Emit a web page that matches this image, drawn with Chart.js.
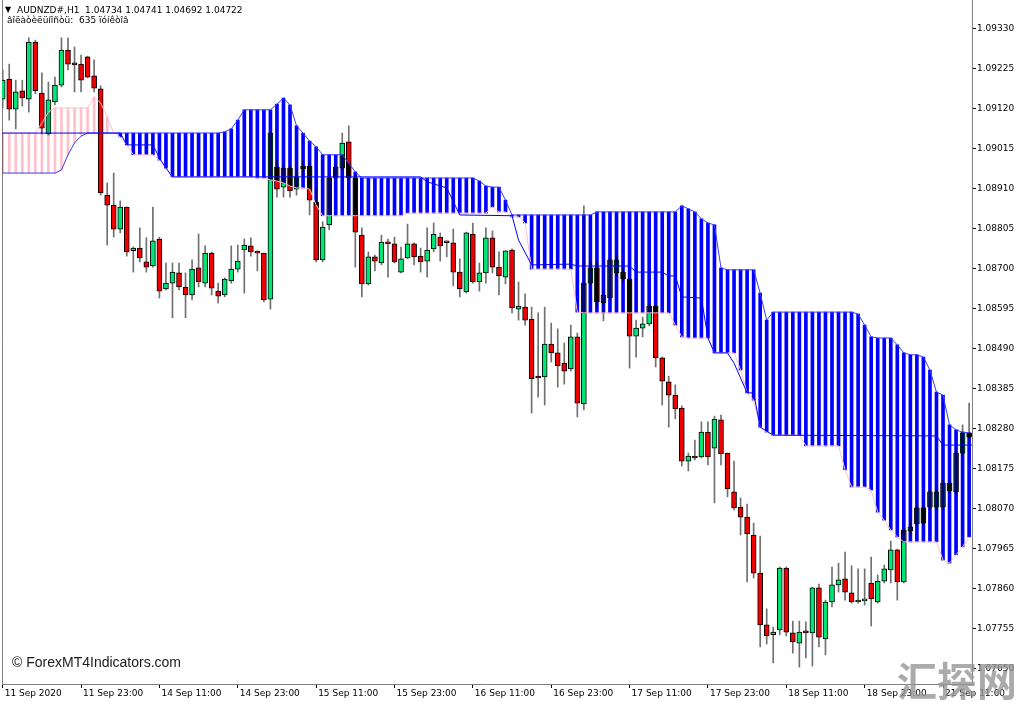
<!DOCTYPE html>
<html>
<head>
<meta charset="utf-8">
<title>AUDNZD#,H1</title>
<script src="https://cdn.jsdelivr.net/npm/chart.js@4.4.1/dist/chart.umd.min.js"></script>
<style>
  html, body { margin: 0; padding: 0; background: #fff; }
  #wrap { position: relative; width: 1024px; height: 704px; overflow: hidden; background: #fff; }
  #chart { position: absolute; left: 0; top: 0; }
  .mt { position: absolute; white-space: pre; font-family: "DejaVu Sans", sans-serif; font-size: 9px; line-height: 11px; color: #000; }
  #copy { position: absolute; left: 12px; top: 655px; white-space: pre; font-family: "Liberation Sans", Arial, sans-serif; font-size: 14px; line-height: 14px; color: #1a1a1a; }
  #wm { position: absolute; left: 897px; top: 657px; white-space: pre; font-family: "Noto Sans CJK SC", sans-serif; font-weight: 700; font-size: 40px; line-height: 44px; color: rgba(150,150,150,0.8); }
</style>
</head>
<body>
<div id="wrap">
  <canvas id="chart" width="1024" height="704"></canvas>
  <div class="mt" style="left:5px; top:4px; font-size:8px;">▼</div>
  <div class="mt" style="left:17px; top:5px;">AUDNZD#,H1  1.04734 1.04741 1.04692 1.04722</div>
  <div class="mt" style="left:7px; top:15px;">âîëàòèëüíîñòü:  635 ïóíêòîâ</div>
  <div id="copy">© ForexMT4Indicators.com</div>
  <div id="wm">汇探网</div>
</div>
<script>
// tick labels
const xTickBars = [0, 12, 24, 36, 48, 60, 72, 84, 96, 108, 120, 132, 144];
const xTickLabels = ["11 Sep 2020", "11 Sep 23:00", "14 Sep 11:00", "14 Sep 23:00", "15 Sep 11:00", "15 Sep 23:00",
  "16 Sep 11:00", "16 Sep 23:00", "17 Sep 11:00", "17 Sep 23:00", "18 Sep 11:00", "18 Sep 23:00", "21 Sep 11:00"];
const yTickLabels = ["1.07650", "1.07755", "1.07860", "1.07965", "1.08070", "1.08175", "1.08280", "1.08385", "1.08490",
  "1.08595", "1.08700", "1.08805", "1.08910", "1.09015", "1.09120", "1.09225", "1.09330"];

// H1 candles, bar 0 = 11 Sep 2020 11:00
const opens = [
  1.09144, 1.09197, 1.09118, 1.09166, 1.09144, 1.09294, 1.09160, 1.09053, 1.09137, 1.09181,
  1.09273, 1.09239, 1.09236, 1.09255, 1.09205, 1.09171, 1.08892, 1.08866, 1.08803, 1.08861,
  1.08746, 1.08753, 1.08717, 1.08706, 1.08777, 1.08646, 1.08661, 1.08688, 1.08651, 1.08630,
  1.08701, 1.08661, 1.08740, 1.08640, 1.08630, 1.08667, 1.08698, 1.08748, 1.08759, 1.08743,
  1.08740, 1.08619, 1.08966, 1.08913, 1.08963, 1.08908, 1.08968, 1.08968, 1.08874, 1.08722,
  1.08814, 1.08937, 1.08963, 1.09032, 1.08937, 1.08787, 1.08659, 1.08730, 1.08714, 1.08769,
  1.08764, 1.08690, 1.08727, 1.08764, 1.08732, 1.08719, 1.08751, 1.08782, 1.08767, 1.08767,
  1.08690, 1.08638, 1.08790, 1.08664, 1.08688, 1.08780, 1.08703, 1.08677, 1.08748, 1.08593,
  1.08598, 1.08567, 1.08415, 1.08415, 1.08501, 1.08478, 1.08451, 1.08436, 1.08520, 1.08344,
  1.08661, 1.08701, 1.08609, 1.08622, 1.08688, 1.08690, 1.08672, 1.08522, 1.08543, 1.08554,
  1.08601, 1.08465, 1.08402, 1.08367, 1.08333, 1.08194, 1.08205, 1.08205, 1.08270, 1.08228,
  1.08302, 1.08215, 1.08113, 1.08073, 1.08047, 1.08000, 1.07900, 1.07764, 1.07738, 1.07751,
  1.07913, 1.07743, 1.07716, 1.07748, 1.07743, 1.07861, 1.07727, 1.07824, 1.07869, 1.07885,
  1.07848, 1.07824, 1.07827, 1.07874, 1.07824, 1.07879, 1.07908, 1.07961, 1.07877, 1.08011,
  1.08029, 1.08071, 1.08073, 1.08073, 1.08073, 1.08136, 1.08113, 1.08215, 1.08268
];
const highs = [
  1.09221, 1.09236, 1.09194, 1.09194, 1.09305, 1.09299, 1.09213, 1.09189, 1.09202, 1.09305,
  1.09305, 1.09281, 1.09260, 1.09257, 1.09247, 1.09179, 1.08924, 1.08950, 1.08877, 1.08861,
  1.08756, 1.08806, 1.08780, 1.08861, 1.08782, 1.08714, 1.08714, 1.08714, 1.08688, 1.08722,
  1.08790, 1.08759, 1.08743, 1.08661, 1.08675, 1.08759, 1.08761, 1.08777, 1.08780, 1.08746,
  1.08740, 1.09058, 1.08984, 1.08971, 1.08968, 1.08958, 1.08984, 1.08984, 1.08906, 1.08822,
  1.08945, 1.08976, 1.09055, 1.09074, 1.08945, 1.08806, 1.08743, 1.08735, 1.08787, 1.08777,
  1.08782, 1.08756, 1.08816, 1.08767, 1.08753, 1.08806, 1.08819, 1.08793, 1.08772, 1.08803,
  1.08725, 1.08795, 1.08819, 1.08714, 1.08806, 1.08798, 1.08743, 1.08746, 1.08751, 1.08664,
  1.08633, 1.08598, 1.08583, 1.08598, 1.08556, 1.08541, 1.08504, 1.08551, 1.08530, 1.08864,
  1.08717, 1.08717, 1.08643, 1.08727, 1.08735, 1.08701, 1.08680, 1.08564, 1.08572, 1.08606,
  1.08606, 1.08467, 1.08417, 1.08394, 1.08339, 1.08215, 1.08249, 1.08297, 1.08297, 1.08312,
  1.08315, 1.08215, 1.08194, 1.08097, 1.08081, 1.08031, 1.07997, 1.07806, 1.07758, 1.07916,
  1.07916, 1.07774, 1.07774, 1.07772, 1.07863, 1.07871, 1.07829, 1.07916, 1.07926, 1.07955,
  1.07919, 1.07911, 1.07911, 1.07942, 1.07895, 1.07921, 1.07984, 1.07963, 1.08021, 1.08039,
  1.08076, 1.08079, 1.08118, 1.08118, 1.08144, 1.08144, 1.08223, 1.08289, 1.08346
];
const lows = [
  1.09121, 1.09089, 1.09066, 1.09126, 1.09110, 1.09158, 1.09053, 1.09050, 1.09129, 1.09176,
  1.09221, 1.09163, 1.09163, 1.09200, 1.09163, 1.08892, 1.08761, 1.08782, 1.08793, 1.08732,
  1.08690, 1.08717, 1.08690, 1.08703, 1.08622, 1.08643, 1.08570, 1.08643, 1.08570, 1.08617,
  1.08651, 1.08651, 1.08630, 1.08609, 1.08625, 1.08661, 1.08690, 1.08635, 1.08732, 1.08693,
  1.08612, 1.08593, 1.08887, 1.08887, 1.08887, 1.08892, 1.08945, 1.08840, 1.08717, 1.08717,
  1.08801, 1.08932, 1.08958, 1.08932, 1.08703, 1.08625, 1.08656, 1.08693, 1.08709, 1.08677,
  1.08714, 1.08688, 1.08725, 1.08709, 1.08690, 1.08677, 1.08743, 1.08719, 1.08730, 1.08654,
  1.08625, 1.08635, 1.08661, 1.08640, 1.08661, 1.08688, 1.08630, 1.08659, 1.08583, 1.08564,
  1.08551, 1.08320, 1.08362, 1.08341, 1.08454, 1.08388, 1.08396, 1.08430, 1.08310, 1.08328,
  1.08656, 1.08596, 1.08562, 1.08617, 1.08680, 1.08664, 1.08438, 1.08467, 1.08520, 1.08549,
  1.08441, 1.08341, 1.08283, 1.08305, 1.08181, 1.08168, 1.08197, 1.08202, 1.08184, 1.08084,
  1.08184, 1.08100, 1.08066, 1.08000, 1.07877, 1.07887, 1.07706, 1.07714, 1.07664, 1.07738,
  1.07735, 1.07690, 1.07653, 1.07677, 1.07656, 1.07706, 1.07685, 1.07811, 1.07850, 1.07829,
  1.07821, 1.07821, 1.07816, 1.07761, 1.07821, 1.07874, 1.07874, 1.07829, 1.07874, 1.08000,
  1.08024, 1.08026, 1.08068, 1.08066, 1.08068, 1.08110, 1.08108, 1.08210, 1.08249
];
const closes = [
  1.09194, 1.09118, 1.09163, 1.09147, 1.09294, 1.09166, 1.09068, 1.09142, 1.09181, 1.09273,
  1.09236, 1.09234, 1.09194, 1.09202, 1.09173, 1.08898, 1.08866, 1.08803, 1.08861, 1.08743,
  1.08753, 1.08727, 1.08703, 1.08772, 1.08640, 1.08661, 1.08690, 1.08651, 1.08630, 1.08698,
  1.08664, 1.08740, 1.08648, 1.08627, 1.08672, 1.08698, 1.08719, 1.08761, 1.08743, 1.08740,
  1.08617, 1.09055, 1.08908, 1.08963, 1.08903, 1.08940, 1.08961, 1.08879, 1.08722, 1.08808,
  1.08937, 1.08966, 1.09029, 1.08937, 1.08795, 1.08659, 1.08730, 1.08719, 1.08769, 1.08764,
  1.08717, 1.08725, 1.08764, 1.08730, 1.08717, 1.08748, 1.08790, 1.08759, 1.08769, 1.08690,
  1.08646, 1.08793, 1.08664, 1.08688, 1.08780, 1.08703, 1.08680, 1.08746, 1.08596, 1.08601,
  1.08564, 1.08410, 1.08412, 1.08501, 1.08478, 1.08444, 1.08430, 1.08520, 1.08346, 1.08661,
  1.08701, 1.08612, 1.08630, 1.08722, 1.08722, 1.08672, 1.08522, 1.08543, 1.08554, 1.08601,
  1.08465, 1.08404, 1.08367, 1.08331, 1.08194, 1.08207, 1.08202, 1.08270, 1.08205, 1.08304,
  1.08213, 1.08121, 1.08071, 1.08047, 1.08003, 1.07900, 1.07764, 1.07735, 1.07745, 1.07913,
  1.07745, 1.07719, 1.07745, 1.07743, 1.07861, 1.07732, 1.07824, 1.07869, 1.07882, 1.07850,
  1.07824, 1.07827, 1.07832, 1.07832, 1.07879, 1.07911, 1.07961, 1.07877, 1.08013, 1.08021,
  1.08071, 1.08031, 1.08113, 1.08113, 1.08136, 1.08116, 1.08215, 1.08268, 1.08257
];

// cloud spans (blue = span A, pink = span B)
const spanA = [
  1.08950, 1.08950, 1.08950, 1.08950, 1.08950, 1.08950, 1.08950, 1.08950, 1.08950, 1.08958,
  1.08998, 1.09029, 1.09047, 1.09055, 1.09055, 1.09055, 1.09055, 1.09055, 1.09055, 1.09055,
  1.09055, 1.09055, 1.09055, 1.09055, 1.09055, 1.09055, 1.09055, 1.09055, 1.09055, 1.09055,
  1.09055, 1.09055, 1.09055, 1.09055, 1.09058, 1.09066, 1.09089, 1.09116, 1.09116, 1.09116,
  1.09116, 1.09116, 1.09131, 1.09147, 1.09129, 1.09074, 1.09055, 1.09034, 1.09019, 1.08998,
  1.08998, 1.08998, 1.08998, 1.08976, 1.08953, 1.08937, 1.08937, 1.08937, 1.08937, 1.08937,
  1.08937, 1.08937, 1.08937, 1.08937, 1.08937, 1.08937, 1.08937, 1.08937, 1.08937, 1.08937,
  1.08937, 1.08937, 1.08937, 1.08929, 1.08916, 1.08913, 1.08913, 1.08879, 1.08840, 1.08840,
  1.08840, 1.08840, 1.08840, 1.08840, 1.08840, 1.08840, 1.08840, 1.08840, 1.08840, 1.08840,
  1.08840, 1.08848, 1.08848, 1.08848, 1.08848, 1.08848, 1.08848, 1.08848, 1.08848, 1.08848,
  1.08848, 1.08848, 1.08848, 1.08848, 1.08864, 1.08856, 1.08848, 1.08830, 1.08819, 1.08814,
  1.08701, 1.08696, 1.08696, 1.08696, 1.08696, 1.08696, 1.08635, 1.08564, 1.08585, 1.08585,
  1.08585, 1.08585, 1.08585, 1.08585, 1.08585, 1.08585, 1.08585, 1.08585, 1.08585, 1.08585,
  1.08585, 1.08580, 1.08551, 1.08520, 1.08517, 1.08517, 1.08517, 1.08499, 1.08478, 1.08473,
  1.08473, 1.08467, 1.08433, 1.08375, 1.08367, 1.08289, 1.08276, 1.08270, 1.08268
];
const spanB = [
  1.09055, 1.09055, 1.09055, 1.09055, 1.09055, 1.09055, 1.09081, 1.09110, 1.09121, 1.09121,
  1.09121, 1.09121, 1.09121, 1.09121, 1.09150, 1.09134, 1.09097, 1.09055, 1.09045, 1.09024,
  1.08998, 1.08998, 1.08998, 1.08998, 1.08984, 1.08963, 1.08940, 1.08940, 1.08940, 1.08940,
  1.08940, 1.08940, 1.08940, 1.08940, 1.08940, 1.08940, 1.08940, 1.08940, 1.08940, 1.08937,
  1.08937, 1.08932, 1.08929, 1.08924, 1.08916, 1.08911, 1.08911, 1.08908, 1.08866, 1.08838,
  1.08838, 1.08838, 1.08838, 1.08838, 1.08838, 1.08838, 1.08838, 1.08838, 1.08838, 1.08838,
  1.08838, 1.08838, 1.08845, 1.08845, 1.08845, 1.08845, 1.08845, 1.08845, 1.08845, 1.08845,
  1.08845, 1.08845, 1.08845, 1.08845, 1.08845, 1.08861, 1.08848, 1.08848, 1.08835, 1.08835,
  1.08819, 1.08698, 1.08698, 1.08698, 1.08698, 1.08698, 1.08698, 1.08698, 1.08585, 1.08583,
  1.08583, 1.08583, 1.08583, 1.08583, 1.08583, 1.08583, 1.08583, 1.08583, 1.08583, 1.08583,
  1.08583, 1.08583, 1.08583, 1.08551, 1.08520, 1.08517, 1.08517, 1.08517, 1.08517, 1.08478,
  1.08478, 1.08478, 1.08478, 1.08433, 1.08373, 1.08354, 1.08283, 1.08270, 1.08262, 1.08262,
  1.08262, 1.08262, 1.08262, 1.08234, 1.08234, 1.08234, 1.08234, 1.08234, 1.08234, 1.08171,
  1.08126, 1.08126, 1.08126, 1.08118, 1.08060, 1.08039, 1.08013, 1.07995, 1.07982, 1.07982,
  1.07982, 1.07982, 1.07982, 1.07982, 1.07934, 1.07926, 1.07948, 1.07969, 1.07995
];

// base line (thin blue), given at the bars where it turns
const kijunBars = [-1, 18, 19, 23, 24, 25, 26, 64, 65, 68, 70, 78, 79, 81, 87, 88, 96, 97, 101, 102,
  103, 104, 107, 108, 109, 111, 112, 114, 115, 116, 118, 143, 144, 149];
const kijun = [1.09055, 1.09055, 1.09024, 1.09024, 1.08990, 1.08963, 1.08940, 1.08940, 1.08927, 1.08911,
  1.08840, 1.08838, 1.08774, 1.08709, 1.08711, 1.08706, 1.08706, 1.08690, 1.08690, 1.08680,
  1.08680, 1.08625, 1.08622, 1.08517, 1.08478, 1.08478, 1.08451, 1.08373, 1.08373, 1.08283,
  1.08262, 1.08260, 1.08236, 1.08236];

const BULL = "#00e676";
const BEAR = "#f00000";

const wickData = opens.map((o, i) => ({ x: i, y: [lows[i], highs[i]] }));
const bodyData = opens.map((o, i) => ({ x: i, y: [o, closes[i]] }));
const bodyColors = opens.map((o, i) => closes[i] >= o ? BULL : BEAR);

const blueCloud = [];
const pinkCloud = [];
spanA.forEach((a, i) => {
  const b = spanB[i];
  if (a > b) blueCloud.push({ x: i, y: [b, a] });
  else if (b > a) pinkCloud.push({ x: i, y: [a, b] });
});

// the hatch is laid over the candles like MT4 does (candles inside the cloud go dark)
const blendPlugin = {
  id: "blend",
  beforeDatasetDraw(chart, args) {
    const ds = chart.data.datasets[args.index];
    if (ds.blend) {
      chart.ctx.save();
      chart.ctx.globalCompositeOperation = ds.blend;
    }
  },
  afterDatasetDraw(chart, args) {
    const ds = chart.data.datasets[args.index];
    if (ds.blend) chart.ctx.restore();
  }
};

Chart.defaults.font.family = "'DejaVu Sans', sans-serif";
Chart.defaults.font.size = 9;
Chart.defaults.color = "#000";

new Chart(document.getElementById("chart"), {
  type: "bar",
  data: {
    datasets: [
      {
        type: "line", label: "Kijun",
        data: kijunBars.map((x, k) => ({ x, y: kijun[k] })),
        borderColor: "#0000ff", borderWidth: 1, pointRadius: 0, tension: 0, order: 0
      },
      {
        type: "line", label: "Span A",
        data: spanA.map((v, i) => ({ x: i, y: v })),
        borderColor: "#3a3aff", borderWidth: 1, pointRadius: 0, tension: 0, order: 0
      },
      {
        type: "line", label: "Span B",
        data: spanB.map((v, i) => ({ x: i, y: v })),
        borderColor: "#ffc0cb", borderWidth: 1, pointRadius: 0, tension: 0, order: 0
      },
      {
        label: "Cloud up", data: blueCloud, backgroundColor: "#0000ff",
        barThickness: 3, grouped: false, borderWidth: 0, blend: "multiply", order: 1
      },
      {
        label: "Cloud down", data: pinkCloud, backgroundColor: "#ffc0cb",
        barThickness: 2, grouped: false, borderWidth: 0, blend: "multiply", order: 1
      },
      {
        label: "Body", data: bodyData, backgroundColor: bodyColors,
        borderColor: "#000", borderWidth: 1, borderSkipped: false,
        barThickness: 5, grouped: false, minBarLength: 2, order: 2
      },
      {
        label: "Wick", data: wickData, backgroundColor: "#707070",
        barThickness: 1, grouped: false, borderWidth: 0, order: 3
      }
    ]
  },
  options: {
    responsive: false,
    animation: false,
    devicePixelRatio: 1,
    layout: { padding: 0 },
    plugins: { legend: { display: false }, tooltip: { enabled: false } },
    scales: {
      x: {
        type: "linear",
        min: -0.107,
        max: 148.44,
        offset: false,
        afterBuildTicks: (scale) => { scale.ticks = xTickBars.map(v => ({ value: v })); },
        afterFit: (scale) => { scale.height = 20; scale.paddingLeft = 0; },
        ticks: {
          autoSkip: false, maxRotation: 0, minRotation: 0, align: "start", padding: 0, labelOffset: 2,
          callback: (v, idx) => xTickLabels[idx]
        },
        grid: { drawOnChartArea: false, drawTicks: true, tickLength: 4, offset: false, color: "#000" },
        border: { display: true, color: "#808080" }
      },
      y: {
        type: "linear",
        position: "right",
        min: 1.076088,
        max: 1.094043,
        afterBuildTicks: (scale) => { scale.ticks = yTickLabels.map(v => ({ value: parseFloat(v) })); },
        afterFit: (scale) => { scale.width = 52; scale.paddingTop = 0; scale.paddingBottom = 0; },
        ticks: { padding: 1, callback: (v) => v.toFixed(5) },
        grid: { drawOnChartArea: false, drawTicks: true, tickLength: 4, color: "#000" },
        border: { display: true, color: "#808080" }
      },
      yLeft: {
        type: "linear",
        position: "left",
        afterFit: (scale) => { scale.width = 2; scale.paddingTop = 0; scale.paddingBottom = 0; },
        ticks: { display: false },
        grid: { display: false },
        border: { display: true, color: "#808080" }
      }
    }
  },
  plugins: [blendPlugin]
});
</script>
</body>
</html>
